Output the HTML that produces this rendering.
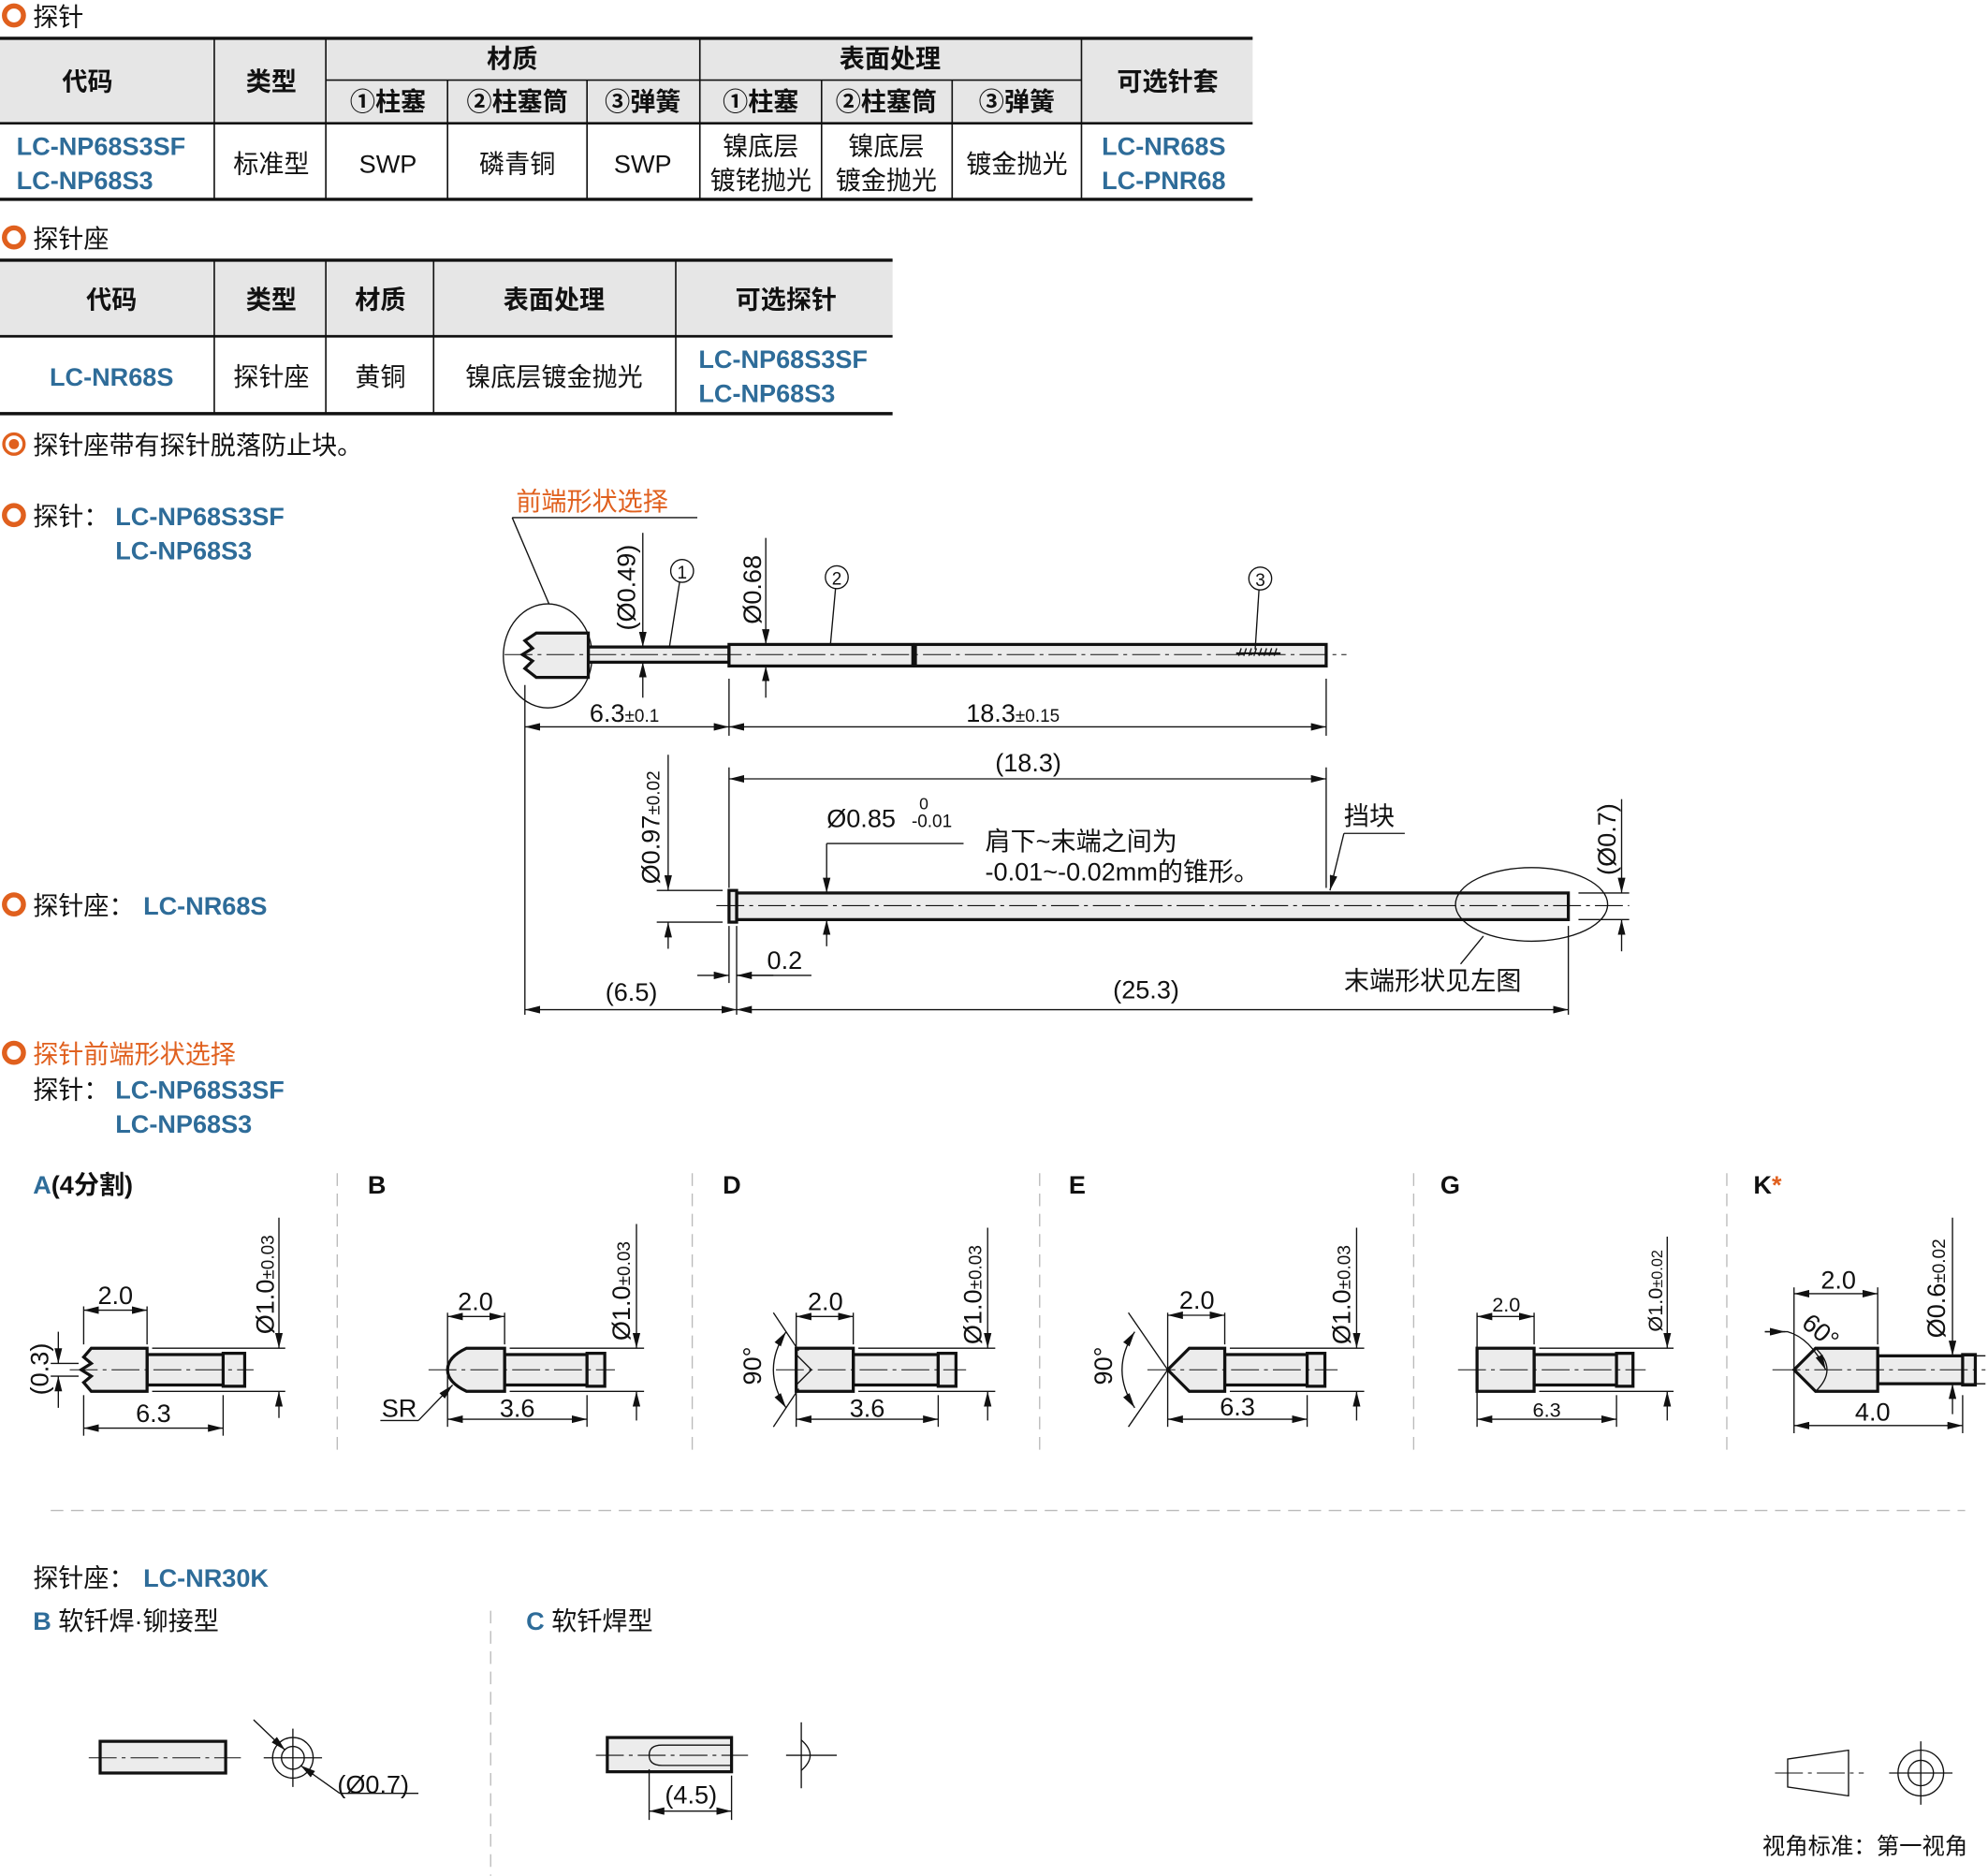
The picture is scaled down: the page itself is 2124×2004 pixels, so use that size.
<!DOCTYPE html>
<html><head><meta charset="utf-8"><style>
html,body{margin:0;padding:0;background:#fff;}
svg{display:block;}
text{font-family:"Liberation Sans","Noto Sans CJK SC",sans-serif;fill:#111;}
.b{fill:#2e6c99;font-weight:bold;}
.o{fill:#e0601e;}
.h{font-weight:bold;}
.ln{stroke:#111;stroke-width:1;fill:none;}
.pt{stroke:#111;stroke-width:2.4;fill:#ececec;}
.cl{stroke:#111;stroke-width:0.8;stroke-dasharray:22 4 3 4;fill:none;}
.dim{stroke:#111;stroke-width:1;fill:none;marker-start:url(#a);marker-end:url(#a);}
.de{stroke:#111;stroke-width:1;fill:none;marker-end:url(#a);}
.sep{stroke:#bbb;stroke-width:1;stroke-dasharray:10 6;}
</style></head><body>
<svg width="2124" height="2004" viewBox="0 0 1568 1479" xmlns="http://www.w3.org/2000/svg">
<defs><marker id="a" viewBox="0 0 12 6" refX="12" refY="3" markerWidth="12" markerHeight="6" orient="auto-start-reverse" markerUnits="userSpaceOnUse"><path d="M0,0 L12,3 L0,6 z" fill="#111"/></marker></defs>

<!-- Table 1 -->
<circle cx="11" cy="12" r="7.5" fill="none" stroke="#e0601e" stroke-width="4"/>
<text x="26" y="20" font-size="20">探针</text>
<rect x="0" y="30" width="988" height="67" fill="#e6e6e6"/>
<g stroke="#111" stroke-width="1.2">
<line x1="0" y1="30" x2="988" y2="30" stroke-width="2.5"/>
<line x1="0" y1="97" x2="988" y2="97" stroke-width="2"/>
<line x1="0" y1="157" x2="988" y2="157" stroke-width="2.5"/>
<line x1="257" y1="63" x2="853" y2="63"/>
<line x1="169" y1="30" x2="169" y2="157"/><line x1="257" y1="30" x2="257" y2="157"/>
<line x1="353" y1="63" x2="353" y2="157"/><line x1="463" y1="63" x2="463" y2="157"/>
<line x1="552" y1="30" x2="552" y2="157"/><line x1="648" y1="63" x2="648" y2="157"/>
<line x1="751" y1="63" x2="751" y2="157"/><line x1="853" y1="30" x2="853" y2="157"/>
</g>
<g font-size="20" text-anchor="middle" class="h">
<text x="69" y="71" class="h">代码</text><text x="214" y="71" class="h">类型</text>
<text x="404" y="53" class="h">材质</text><text x="702" y="53" class="h">表面处理</text>
<text x="921" y="71" class="h">可选针套</text>
<text x="306" y="87" class="h">①柱塞</text><text x="408" y="87" class="h">②柱塞筒</text><text x="507" y="87" class="h">③弹簧</text>
<text x="600" y="87" class="h">①柱塞</text><text x="699" y="87" class="h">②柱塞筒</text><text x="802" y="87" class="h">③弹簧</text>
</g>
<g font-size="20" text-anchor="middle">
<text x="214" y="136">标准型</text><text x="306" y="136">SWP</text><text x="408" y="136">磷青铜</text><text x="507" y="136">SWP</text>
<text x="600" y="122">镍底层</text><text x="600" y="149">镀铑抛光</text>
<text x="699" y="122">镍底层</text><text x="699" y="149">镀金抛光</text>
<text x="802" y="136">镀金抛光</text>
</g>
<text x="13" y="122" font-size="20" class="b">LC-NP68S3SF</text><text x="13" y="149" font-size="20" class="b">LC-NP68S3</text>
<text x="869" y="122" font-size="20" class="b">LC-NR68S</text><text x="869" y="149" font-size="20" class="b">LC-PNR68</text>

<!-- Table 2 -->
<circle cx="11" cy="187" r="7.5" fill="none" stroke="#e0601e" stroke-width="4"/>
<text x="26" y="195" font-size="20">探针座</text>
<rect x="0" y="205" width="704" height="60" fill="#e6e6e6"/>
<g stroke="#111" stroke-width="1.2">
<line x1="0" y1="205" x2="704" y2="205" stroke-width="2.5"/>
<line x1="0" y1="265" x2="704" y2="265" stroke-width="2"/>
<line x1="0" y1="326" x2="704" y2="326" stroke-width="2.5"/>
<line x1="169" y1="205" x2="169" y2="326"/><line x1="257" y1="205" x2="257" y2="326"/>
<line x1="342" y1="205" x2="342" y2="326"/><line x1="533" y1="205" x2="533" y2="326"/>
</g>
<g font-size="20" text-anchor="middle">
<text x="88" y="243" class="h">代码</text><text x="214" y="243" class="h">类型</text><text x="300" y="243" class="h">材质</text>
<text x="437" y="243" class="h">表面处理</text><text x="620" y="243" class="h">可选探针</text>
<text x="214" y="304">探针座</text><text x="300" y="304">黄铜</text><text x="437" y="304">镍底层镀金抛光</text>
<text x="88" y="304" class="b">LC-NR68S</text>
</g>
<text x="551" y="290" font-size="20" class="b">LC-NP68S3SF</text><text x="551" y="317" font-size="20" class="b">LC-NP68S3</text>

<circle cx="11" cy="350" r="8" fill="none" stroke="#e0601e" stroke-width="2.5"/><circle cx="11" cy="350" r="4" fill="#e0601e"/>
<text x="26" y="358" font-size="20">探针座带有探针脱落防止块。</text>

<!-- Probe labels -->
<circle cx="11" cy="406" r="7.5" fill="none" stroke="#e0601e" stroke-width="4"/>
<text x="26" y="414" font-size="20">探针：</text><text x="91" y="414" font-size="20" class="b">LC-NP68S3SF</text>
<text x="91" y="441" font-size="20" class="b">LC-NP68S3</text>
<circle cx="11" cy="713" r="7.5" fill="none" stroke="#e0601e" stroke-width="4"/>
<text x="26" y="721" font-size="20">探针座：</text><text x="113" y="721" font-size="20" class="b">LC-NR68S</text>
<circle cx="11" cy="830" r="7.5" fill="none" stroke="#e0601e" stroke-width="4"/>
<text x="26" y="838" font-size="20" class="o">探针前端形状选择</text>
<text x="26" y="866" font-size="20">探针：</text><text x="91" y="866" font-size="20" class="b">LC-NP68S3SF</text>
<text x="91" y="893" font-size="20" class="b">LC-NP68S3</text>

<!-- Probe drawing -->
<text x="407" y="402" font-size="20" class="o">前端形状选择</text>
<line class="ln" x1="404" y1="408" x2="550" y2="408"/>
<line class="ln" x1="404" y1="408" x2="433" y2="476"/>
<ellipse class="ln" cx="432" cy="517" rx="35" ry="41"/>
<rect class="pt" x="464" y="510" width="111" height="12"/>
<path class="pt" d="M423,499 L464,499 L464,534 L423,534 L414,527 L420,521 L412,516 L420,511 L414,505 Z"/>
<rect class="pt" x="575" y="508" width="145" height="17"/>
<rect class="pt" x="722" y="508" width="324" height="17"/>
<g stroke="#111" stroke-width="1">
<line x1="975" y1="515" x2="1010" y2="515" stroke-width="1.5"/>
<path d="M977,517l2,-6M981,517l2,-6M985,517l2,-6M989,517l2,-6M993,517l2,-6M997,517l2,-6M1001,517l2,-6M1005,517l2,-6"/>
</g>
<line class="cl" x1="398" y1="516" x2="1062" y2="516"/>
<!-- leaders -->
<circle class="ln" cx="538" cy="450" r="9"/><text x="538" y="456" font-size="14" text-anchor="middle">1</text>
<line class="ln" x1="536" y1="459" x2="528" y2="510"/>
<circle class="ln" cx="660" cy="455" r="9"/><text x="660" y="461" font-size="14" text-anchor="middle">2</text>
<line class="ln" x1="659" y1="464" x2="655" y2="508"/>
<circle class="ln" cx="994" cy="456" r="9"/><text x="994" y="462" font-size="14" text-anchor="middle">3</text>
<line class="ln" x1="993" y1="465" x2="990" y2="512"/>
<!-- diameter dims -->
<line class="de" x1="507" y1="420" x2="507" y2="510"/><line class="de" x1="507" y1="550" x2="507" y2="522"/>
<text transform="translate(501,497) rotate(-90)" font-size="20">(Ø0.49)</text>
<line class="de" x1="604" y1="424" x2="604" y2="508"/><line class="de" x1="604" y1="550" x2="604" y2="525"/>
<text transform="translate(600,492) rotate(-90)" font-size="20">Ø0.68</text>
<!-- length dims -->
<line class="ln" x1="414" y1="540" x2="414" y2="800"/>
<line class="ln" x1="575" y1="535" x2="575" y2="580"/>
<line class="ln" x1="1046" y1="535" x2="1046" y2="580"/>
<line class="dim" x1="414" y1="573" x2="575" y2="573"/>
<line class="dim" x1="575" y1="573" x2="1046" y2="573"/>
<text x="465" y="569" font-size="20">6.3<tspan font-size="14">±0.1</tspan></text>
<text x="762" y="569" font-size="20">18.3<tspan font-size="14">±0.15</tspan></text>

<!-- Socket drawing -->
<line class="ln" x1="575" y1="605" x2="575" y2="700"/>
<line class="ln" x1="1046" y1="605" x2="1046" y2="700"/>
<line class="dim" x1="575" y1="614" x2="1046" y2="614"/>
<text x="811" y="608" font-size="20" text-anchor="middle">(18.3)</text>
<rect class="pt" x="581" y="704" width="656" height="21"/>
<rect class="pt" x="575" y="702" width="6" height="25"/>
<line class="cl" x1="565" y1="714" x2="1285" y2="714"/>
<line class="ln" x1="518" y1="702" x2="570" y2="702"/><line class="ln" x1="518" y1="727" x2="570" y2="727"/>
<line class="de" x1="527" y1="595" x2="527" y2="702"/><line class="de" x1="527" y1="748" x2="527" y2="727"/>
<text transform="translate(520,697) rotate(-90)" font-size="20">Ø0.97<tspan font-size="14">±0.02</tspan></text>
<line class="ln" x1="652" y1="665" x2="760" y2="665"/>
<line class="de" x1="652" y1="665" x2="652" y2="704"/><line class="de" x1="652" y1="746" x2="652" y2="725"/>
<text x="652" y="652" font-size="20">Ø0.85</text><text x="725" y="638" font-size="13">0</text><text x="719" y="652" font-size="14">-0.01</text>
<text x="777" y="670" font-size="20">肩下~末端之间为</text>
<text x="777" y="694" font-size="20">-0.01~-0.02mm的锥形。</text>
<text x="1060" y="650" font-size="20">挡块</text>
<line class="ln" x1="1060" y1="657" x2="1108" y2="657"/>
<line class="de" x1="1060" y1="657" x2="1049" y2="702"/>
<line class="ln" x1="581" y1="730" x2="581" y2="800"/>
<line class="ln" x1="575" y1="730" x2="575" y2="775"/>
<line class="de" x1="550" y1="769" x2="575" y2="769"/><line class="de" x1="610" y1="769" x2="581" y2="769"/>
<line class="ln" x1="581" y1="769" x2="640" y2="769"/>
<text x="605" y="764" font-size="20">0.2</text>
<line class="dim" x1="414" y1="796" x2="581" y2="796"/>
<line class="dim" x1="581" y1="796" x2="1237" y2="796"/>
<line class="ln" x1="1237" y1="730" x2="1237" y2="800"/>
<text x="498" y="789" font-size="20" text-anchor="middle">(6.5)</text>
<text x="904" y="787" font-size="20" text-anchor="middle">(25.3)</text>
<ellipse class="ln" cx="1208" cy="713" rx="60" ry="29"/>
<line class="ln" x1="1170" y1="738" x2="1152" y2="760"/>
<text x="1060" y="780" font-size="20">末端形状见左图</text>
<line class="ln" x1="1245" y1="704" x2="1285" y2="704"/><line class="ln" x1="1245" y1="725" x2="1285" y2="725"/>
<line class="de" x1="1279" y1="630" x2="1279" y2="704"/><line class="de" x1="1279" y1="750" x2="1279" y2="725"/>
<text transform="translate(1274,690) rotate(-90)" font-size="20">(Ø0.7)</text>

<!-- Tip details -->
<g font-size="20" class="b">
<text x="26" y="941" class="b">A<tspan fill="#111">(4分割)</tspan></text>
<text x="290" y="941">B</text><text x="570" y="941">D</text><text x="843" y="941">E</text><text x="1136" y="941">G</text>
<text x="1383" y="941">K<tspan class="o">*</tspan></text>
</g>
<g class="sep"><line x1="266" y1="925" x2="266" y2="1145"/><line x1="546" y1="925" x2="546" y2="1145"/><line x1="820" y1="925" x2="820" y2="1145"/><line x1="1115" y1="925" x2="1115" y2="1145"/><line x1="1362" y1="925" x2="1362" y2="1145"/><line x1="40" y1="1191" x2="1550" y2="1191"/></g>

<!-- A -->
<g>
<rect class="pt" x="116" y="1068" width="62" height="24"/><rect class="pt" x="176" y="1067" width="17" height="26"/>
<path class="pt" d="M72,1063 L116,1063 L116,1097 L72,1097 L66,1090 L72,1085 L64,1080 L72,1075 L66,1070 Z"/>
<line class="cl" x1="55" y1="1080" x2="200" y2="1080"/>
<line class="ln" x1="66" y1="1030" x2="66" y2="1060"/><line class="ln" x1="116" y1="1030" x2="116" y2="1060"/>
<line class="dim" x1="66" y1="1033" x2="116" y2="1033"/><text x="91" y="1028" font-size="20" text-anchor="middle">2.0</text>
<line class="ln" x1="66" y1="1100" x2="66" y2="1132"/><line class="ln" x1="176" y1="1100" x2="176" y2="1132"/>
<line class="dim" x1="66" y1="1126" x2="176" y2="1126"/><text x="121" y="1121" font-size="20" text-anchor="middle">6.3</text>
<line class="ln" x1="120" y1="1063" x2="225" y2="1063"/><line class="ln" x1="120" y1="1097" x2="225" y2="1097"/>
<line class="de" x1="220" y1="960" x2="220" y2="1063"/><line class="de" x1="220" y1="1118" x2="220" y2="1097"/>
<text transform="translate(216,1052) rotate(-90)" font-size="20">Ø1.0<tspan font-size="14">±0.03</tspan></text>
<line class="ln" x1="40" y1="1075" x2="62" y2="1075"/><line class="ln" x1="40" y1="1085" x2="62" y2="1085"/>
<line class="de" x1="46" y1="1050" x2="46" y2="1075"/><line class="de" x1="46" y1="1110" x2="46" y2="1085"/>
<text transform="translate(38,1100) rotate(-90)" font-size="20">(0.3)</text>
</g>
<!-- B -->
<g>
<rect class="pt" x="398" y="1068" width="65" height="24"/><rect class="pt" x="463" y="1067" width="14" height="26"/>
<path class="pt" d="M368,1063 L398,1063 L398,1097 L368,1097 Q353,1090 353,1080 Q353,1070 368,1063 Z"/>
<line class="cl" x1="338" y1="1080" x2="485" y2="1080"/>
<line class="ln" x1="353" y1="1035" x2="353" y2="1125"/><line class="ln" x1="398" y1="1035" x2="398" y2="1060"/>
<line class="dim" x1="353" y1="1038" x2="398" y2="1038"/><text x="375" y="1033" font-size="20" text-anchor="middle">2.0</text>
<line class="ln" x1="463" y1="1100" x2="463" y2="1125"/>
<line class="dim" x1="353" y1="1119" x2="463" y2="1119"/><text x="408" y="1117" font-size="20" text-anchor="middle">3.6</text>
<line class="ln" x1="300" y1="1120" x2="330" y2="1120"/><line class="de" x1="330" y1="1120" x2="357" y2="1092"/>
<text x="301" y="1117" font-size="20">SR</text>
<line class="ln" x1="402" y1="1063" x2="508" y2="1063"/><line class="ln" x1="402" y1="1097" x2="508" y2="1097"/>
<line class="de" x1="502" y1="965" x2="502" y2="1063"/><line class="de" x1="502" y1="1120" x2="502" y2="1097"/>
<text transform="translate(497,1057) rotate(-90)" font-size="20">Ø1.0<tspan font-size="14">±0.03</tspan></text>
</g>
<!-- D -->
<g>
<rect class="pt" x="673" y="1068" width="67" height="24"/><rect class="pt" x="740" y="1067" width="14" height="26"/>
<rect class="pt" x="628" y="1063" width="45" height="34"/>
<line class="ln" x1="628" y1="1068" x2="640" y2="1080"/><line class="ln" x1="628" y1="1092" x2="640" y2="1080"/>
<line class="cl" x1="612" y1="1080" x2="762" y2="1080"/>
<line class="ln" x1="628" y1="1035" x2="628" y2="1125"/><line class="ln" x1="673" y1="1035" x2="673" y2="1060"/>
<line class="dim" x1="628" y1="1038" x2="673" y2="1038"/><text x="651" y="1033" font-size="20" text-anchor="middle">2.0</text>
<line class="ln" x1="740" y1="1100" x2="740" y2="1125"/>
<line class="dim" x1="628" y1="1119" x2="740" y2="1119"/><text x="684" y="1117" font-size="20" text-anchor="middle">3.6</text>
<line class="ln" x1="610" y1="1035" x2="630" y2="1065"/><line class="ln" x1="610" y1="1125" x2="630" y2="1095"/>
<path class="ln" d="M620,1050 Q600,1080 620,1110" marker-start="url(#a)" marker-end="url(#a)"/>
<text transform="translate(600,1092) rotate(-90)" font-size="20">90°</text>
<line class="ln" x1="677" y1="1063" x2="785" y2="1063"/><line class="ln" x1="677" y1="1097" x2="785" y2="1097"/>
<line class="de" x1="779" y1="968" x2="779" y2="1063"/><line class="de" x1="779" y1="1120" x2="779" y2="1097"/>
<text transform="translate(774,1060) rotate(-90)" font-size="20">Ø1.0<tspan font-size="14">±0.03</tspan></text>
</g>
<!-- E -->
<g>
<rect class="pt" x="966" y="1068" width="65" height="24"/><rect class="pt" x="1031" y="1067" width="14" height="26"/>
<path class="pt" d="M938,1063 L966,1063 L966,1097 L938,1097 L921,1080 Z"/>
<line class="cl" x1="905" y1="1080" x2="1055" y2="1080"/>
<line class="ln" x1="921" y1="1035" x2="921" y2="1125"/><line class="ln" x1="966" y1="1035" x2="966" y2="1060"/>
<line class="dim" x1="921" y1="1037" x2="966" y2="1037"/><text x="944" y="1032" font-size="20" text-anchor="middle">2.0</text>
<line class="ln" x1="1031" y1="1100" x2="1031" y2="1125"/>
<line class="dim" x1="921" y1="1119" x2="1031" y2="1119"/><text x="976" y="1116" font-size="20" text-anchor="middle">6.3</text>
<line class="ln" x1="890" y1="1035" x2="921" y2="1080"/><line class="ln" x1="890" y1="1125" x2="921" y2="1080"/>
<path class="ln" d="M895,1050 Q875,1080 895,1110" marker-start="url(#a)" marker-end="url(#a)"/>
<text transform="translate(877,1092) rotate(-90)" font-size="20">90°</text>
<line class="ln" x1="970" y1="1063" x2="1076" y2="1063"/><line class="ln" x1="970" y1="1097" x2="1076" y2="1097"/>
<line class="de" x1="1070" y1="968" x2="1070" y2="1063"/><line class="de" x1="1070" y1="1120" x2="1070" y2="1097"/>
<text transform="translate(1065,1060) rotate(-90)" font-size="20">Ø1.0<tspan font-size="14">±0.03</tspan></text>
</g>
<!-- G -->
<g>
<rect class="pt" x="1210" y="1068" width="65" height="24"/><rect class="pt" x="1275" y="1067" width="13" height="26"/>
<rect class="pt" x="1165" y="1063" width="45" height="34"/>
<line class="cl" x1="1150" y1="1080" x2="1298" y2="1080"/>
<line class="ln" x1="1165" y1="1035" x2="1165" y2="1125"/><line class="ln" x1="1210" y1="1035" x2="1210" y2="1060"/>
<line class="dim" x1="1165" y1="1038" x2="1210" y2="1038"/><text x="1188" y="1034" font-size="16" text-anchor="middle">2.0</text>
<line class="ln" x1="1275" y1="1100" x2="1275" y2="1125"/>
<line class="dim" x1="1165" y1="1119" x2="1275" y2="1119"/><text x="1220" y="1117" font-size="16" text-anchor="middle">6.3</text>
<line class="ln" x1="1214" y1="1063" x2="1320" y2="1063"/><line class="ln" x1="1214" y1="1097" x2="1320" y2="1097"/>
<line class="de" x1="1315" y1="975" x2="1315" y2="1063"/><line class="de" x1="1315" y1="1120" x2="1315" y2="1097"/>
<text transform="translate(1311,1050) rotate(-90)" font-size="16">Ø1.0<tspan font-size="12">±0.02</tspan></text>
</g>
<!-- K -->
<g>
<rect class="pt" x="1481" y="1069" width="68" height="22"/><rect class="pt" x="1548" y="1068" width="10" height="24"/>
<path class="pt" d="M1432,1063 L1481,1063 L1481,1097 L1432,1097 L1415,1080 Z"/>
<path class="ln" d="M1432,1063 Q1450,1080 1432,1097"/>
<line class="cl" x1="1398" y1="1080" x2="1566" y2="1080"/>
<line class="ln" x1="1415" y1="1015" x2="1415" y2="1130"/><line class="ln" x1="1481" y1="1015" x2="1481" y2="1060"/>
<line class="dim" x1="1415" y1="1020" x2="1481" y2="1020"/><text x="1450" y="1016" font-size="20" text-anchor="middle">2.0</text>
<line class="ln" x1="1548" y1="1100" x2="1548" y2="1130"/>
<line class="dim" x1="1415" y1="1124" x2="1548" y2="1124"/><text x="1477" y="1120" font-size="20" text-anchor="middle">4.0</text>
<path class="ln" d="M1392,1050 L1410,1050 Q1428,1055 1440,1080" marker-end="url(#a)"/>
<line class="ln" x1="1392" y1="1050" x2="1408" y2="1050" marker-end="url(#a)"/>
<text transform="translate(1420,1045) rotate(40)" font-size="20">60°</text>
<line class="ln" x1="1486" y1="1069" x2="1566" y2="1069"/><line class="ln" x1="1486" y1="1091" x2="1566" y2="1091"/>
<line class="de" x1="1540" y1="960" x2="1540" y2="1069"/><line class="de" x1="1540" y1="1115" x2="1540" y2="1091"/>
<text transform="translate(1534,1055) rotate(-90)" font-size="20">Ø0.6<tspan font-size="14">±0.02</tspan></text>
</g>

<!-- LC-NR30K -->
<text x="26" y="1251" font-size="20">探针座：</text><text x="113" y="1251" font-size="20" class="b">LC-NR30K</text>
<text x="26" y="1285" font-size="20"><tspan class="b">B</tspan> 软钎焊·铆接型</text>
<text x="415" y="1285" font-size="20"><tspan class="b">C</tspan> 软钎焊型</text>
<line class="sep" x1="387" y1="1270" x2="387" y2="1479"/>
<rect class="pt" x="79" y="1373" width="99" height="25" stroke-width="1.5"/>
<line class="cl" x1="70" y1="1386" x2="190" y2="1386"/>
<circle class="ln" cx="231" cy="1386" r="16" stroke-width="1.5"/><circle class="ln" cx="231" cy="1386" r="9"/>
<line class="ln" x1="208" y1="1386" x2="254" y2="1386"/><line class="ln" x1="231" y1="1363" x2="231" y2="1409"/>
<line class="de" x1="200" y1="1356" x2="225" y2="1380"/><line class="de" x1="268" y1="1414" x2="237" y2="1392"/>
<line class="ln" x1="268" y1="1414" x2="330" y2="1414"/>
<text x="266" y="1414" font-size="20">(Ø0.7)</text>
<rect class="pt" x="479" y="1370" width="98" height="27" stroke-width="1.5"/>
<path class="ln" d="M577,1376 L522,1376 Q512,1376 512,1384 Q512,1392 522,1392 L577,1392" stroke-width="1.5"/>
<line class="cl" x1="470" y1="1384" x2="590" y2="1384"/>
<line class="ln" x1="512" y1="1395" x2="512" y2="1435"/><line class="ln" x1="577" y1="1400" x2="577" y2="1435"/>
<line class="dim" x1="512" y1="1428" x2="577" y2="1428"/><text x="545" y="1422" font-size="20" text-anchor="middle">(4.5)</text>
<path class="ln" d="M632,1372 Q646,1384 632,1396" stroke-width="2"/>
<line class="ln" x1="632" y1="1358" x2="632" y2="1410"/><line class="ln" x1="620" y1="1384" x2="660" y2="1384"/>

<!-- view symbol -->
<path class="ln" d="M1410,1387 L1458,1380 L1458,1416 L1410,1409 Z" stroke-width="1.3"/>
<line class="cl" x1="1400" y1="1398" x2="1470" y2="1398"/>
<circle class="ln" cx="1515" cy="1398" r="18" stroke-width="1.3"/><circle class="ln" cx="1515" cy="1398" r="10" stroke-width="1.3"/>
<line class="ln" x1="1490" y1="1398" x2="1540" y2="1398"/><line class="ln" x1="1515" y1="1373" x2="1515" y2="1423"/>
<text x="1390" y="1462" font-size="18">视角标准：第一视角</text>
</svg>
</body></html>
